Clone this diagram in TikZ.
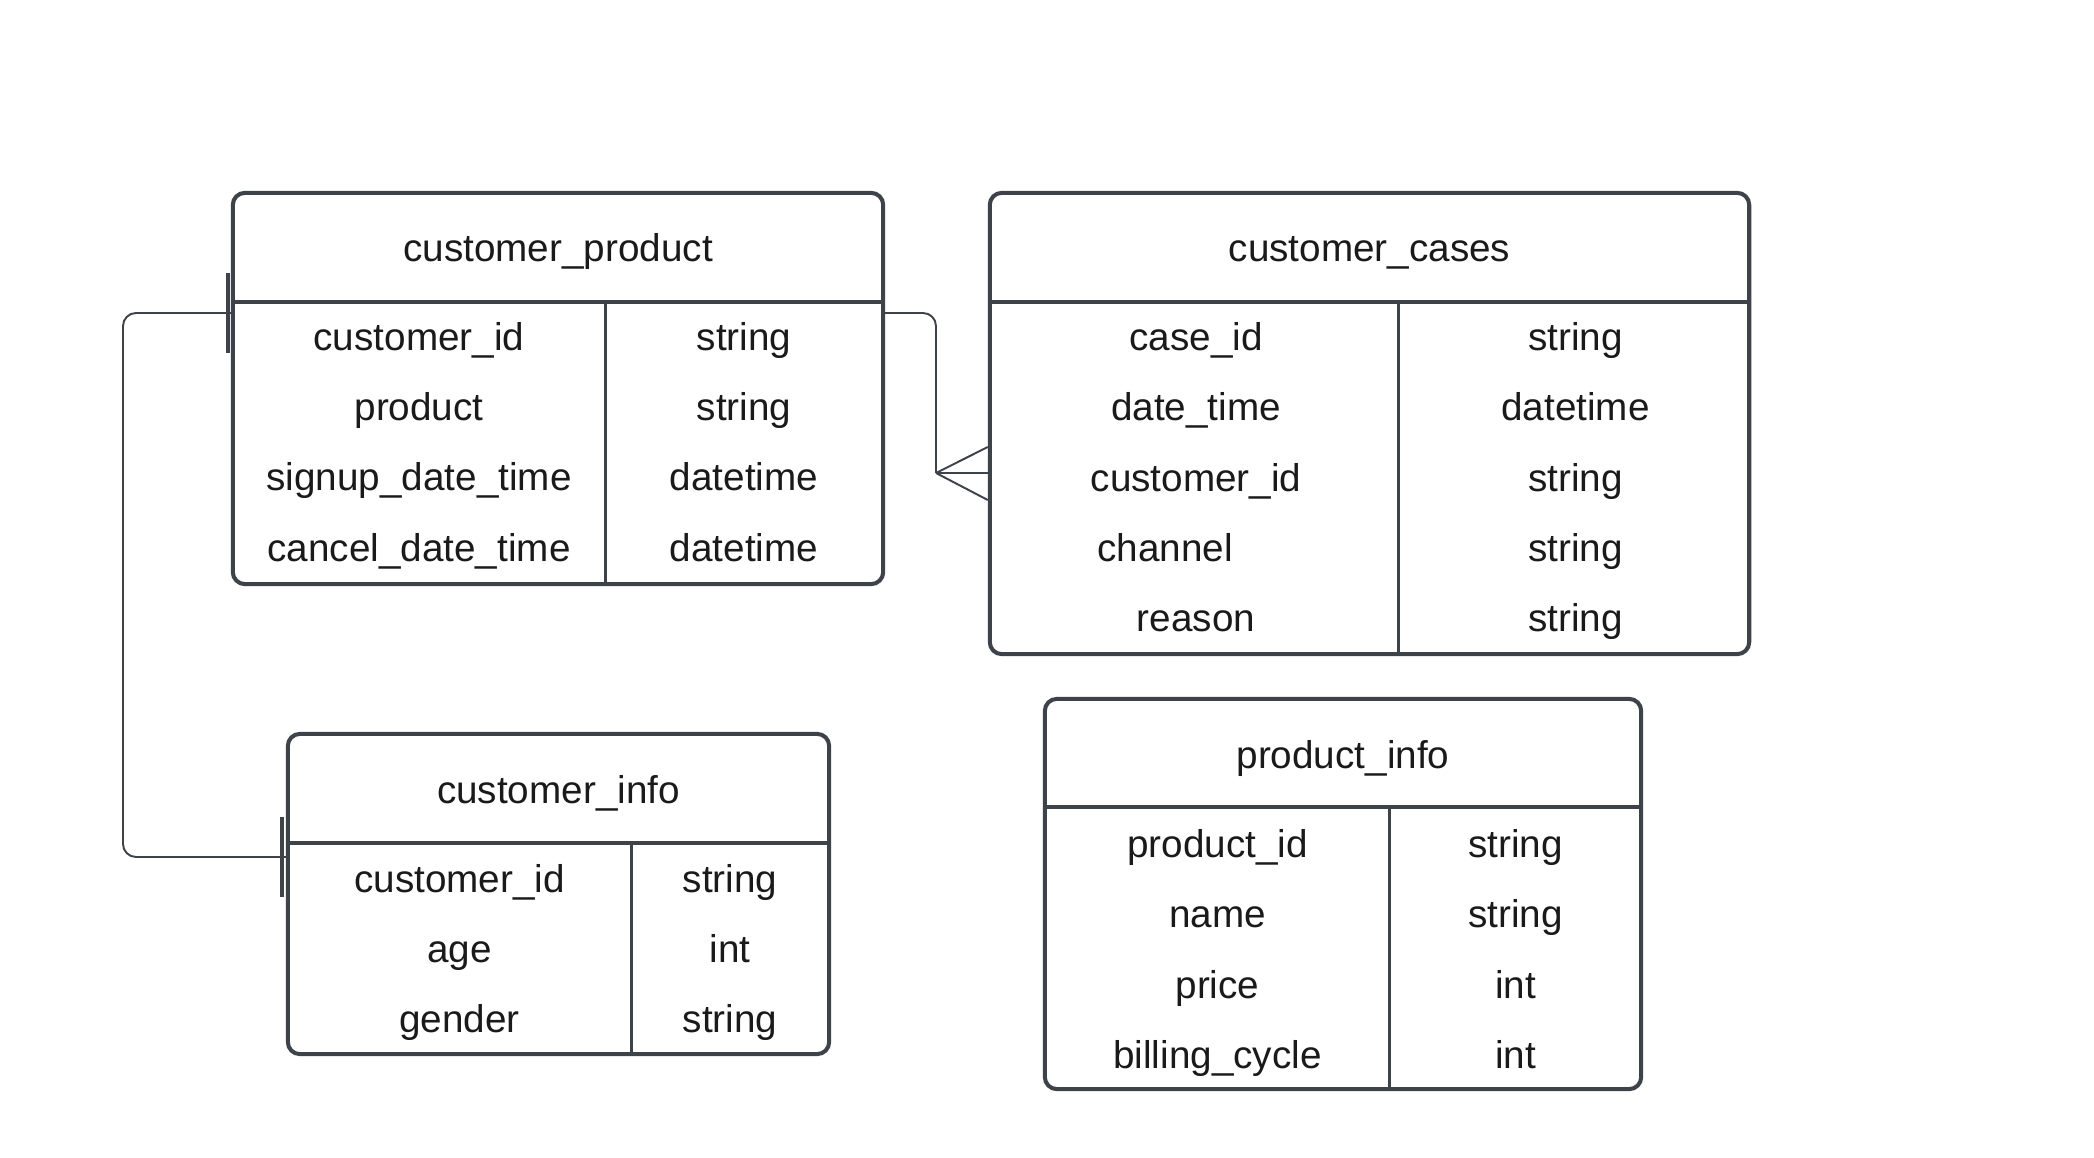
\documentclass[tikz,border=0pt]{standalone}
\usepackage{fontspec}
\setmainfont{Liberation Sans}
\usetikzlibrary{positioning, calc}

\definecolor{edgegray}{HTML}{3E434A}
\definecolor{inkgray}{HTML}{1A1A1A}

\begin{document}
\begin{tikzpicture}[
  x=0.01cm, y=-0.01cm,
  table/.style = {draw=edgegray, line width=1.15pt, rounded corners=0.12cm, inner sep=0pt},
  rule/.style = {draw=edgegray, line width=1.15pt},
  colrule/.style = {draw=edgegray, line width=0.85pt},
  field/.style = {text=inkgray, font=\fontsize{11}{13}\selectfont, inner sep=0pt, anchor=mid, yshift=-0.03cm},
  link/.style = {draw=edgegray, line width=0.55pt, rounded corners=0.13cm},
  bar/.style = {draw=edgegray, line width=1.15pt}
]

  \fill[white] (0,0) rectangle (2094,1158);
  \useasboundingbox (0,0) rectangle (2094,1158);

  % customer_product
  \node[table, minimum width=6.50cm, minimum height=3.91cm] (cp) at (558,388.5) {};
  \node[field] (cp-title) at (558,249) {customer\_product};
  \draw[rule] (cp.west |- 0,302) -- (cp.east |- 0,302);
  \draw[colrule] (605,302) -- (605,0 |- cp.south);
  \foreach \name/\kind [count=\i from 0] in {customer\_id/string, product/string,
      signup\_date\_time/datetime, cancel\_date\_time/datetime} {
    \node[field] (cp-n\i) at (419,{338+70.3*\i}) {\name};
    \node[field] (cp-t\i) at (744,{338+70.3*\i}) {\kind};
  }

  % customer_cases
  \node[table, minimum width=7.59cm, minimum height=4.61cm] (cc) at (1369.5,423.5) {};
  \node[field] (cc-title) at (1369.5,249) {customer\_cases};
  \draw[rule] (cc.west |- 0,302) -- (cc.east |- 0,302);
  \draw[colrule] (1398,302) -- (1398,0 |- cc.south);
  \foreach \name/\kind [count=\i from 0] in {case\_id/string, date\_time/datetime,
      customer\_id/string, reason/string} {
    \pgfmathsetmacro{\k}{\i<3 ? \i : 4}
    \node[field] (cc-n\i) at (1196,{338+70.4*\k}) {\name};
  }
  \node[field] (cc-n4) at (1165,{338+70.4*3}) {channel};
  \foreach \kind [count=\i from 0] in {string, datetime, string, string, string} {
    \node[field] (cc-t\i) at (1575.5,{338+70.4*\i}) {\kind};
  }

  % customer_info
  \node[table, minimum width=5.41cm, minimum height=3.20cm] (ci) at (558.5,894) {};
  \node[field] (ci-title) at (558.5,791) {customer\_info};
  \draw[rule] (ci.west |- 0,843) -- (ci.east |- 0,843);
  \draw[colrule] (631,843) -- (631,0 |- ci.south);
  \foreach \name/\kind [count=\i from 0] in {customer\_id/string, age/int, gender/string} {
    \node[field] (ci-n\i) at (459.5,{880+70*\i}) {\name};
    \node[field] (ci-t\i) at (730,{880+70*\i}) {\kind};
  }

  % product_info
  \node[table, minimum width=5.96cm, minimum height=3.90cm] (pi) at (1343,894) {};
  \node[field] (pi-title) at (1343,756) {product\_info};
  \draw[rule] (pi.west |- 0,807) -- (pi.east |- 0,807);
  \draw[colrule] (1389,807) -- (1389,0 |- pi.south);
  \foreach \name/\kind [count=\i from 0] in {product\_id/string, name/string,
      price/int, billing\_cycle/int} {
    \node[field] (pi-n\i) at (1217.5,{845+70.5*\i}) {\name};
    \node[field] (pi-t\i) at (1515.5,{845+70.5*\i}) {\kind};
  }

  % customer_product -> customer_info (one to one)
  \coordinate (cp-key) at (cp.west |- 0,313);
  \coordinate (ci-key) at (ci.west |- 0,857);
  \draw[link] (cp-key) -- (123,313) -- (123,857) -- (ci-key);
  \draw[bar] ($(cp-key)+(-3,-40)$) -- ($(cp-key)+(-3,40)$);
  \draw[bar] ($(ci-key)+(-4,-40)$) -- ($(ci-key)+(-4,40)$);

  % customer_product -> customer_cases (one to many)
  \coordinate (cp-out) at (cp.east |- 0,313);
  \coordinate (cc-key) at (cc.west |- 0,473);
  \coordinate (foot) at (936,473);
  \draw[link] (cp-out) -- (936,313) -- (foot);
  \draw[link, rounded corners=0] (foot) -- ($(cc-key)+(0,-26)$)
    (foot) -- (cc-key)
    (foot) -- ($(cc-key)+(0,27)$);

\end{tikzpicture}
\end{document}
